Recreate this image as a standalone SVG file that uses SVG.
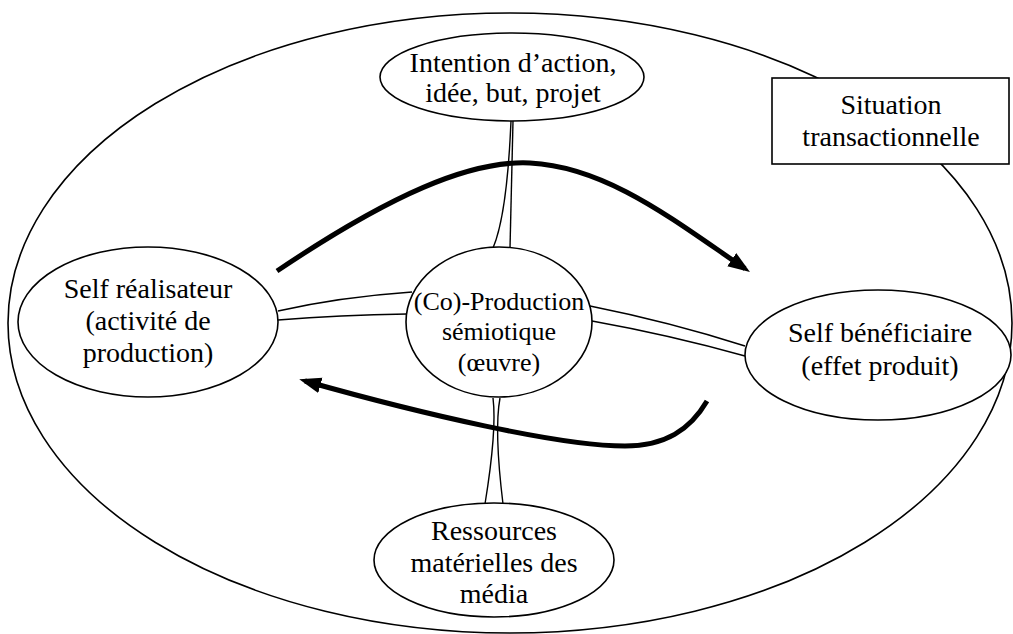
<svg xmlns="http://www.w3.org/2000/svg" width="1013" height="634" viewBox="0 0 1013 634">
<style>
.n{fill:#fff;stroke:#000;stroke-width:1.6}
.t{font-size:28px;fill:#000;text-anchor:middle}
.s{font-size:26px}
.c{fill:none;stroke:#000;stroke-width:1.4}
.a{fill:none;stroke:#000;stroke-width:5}
</style>
<defs>
<marker id="ah" markerUnits="userSpaceOnUse" markerWidth="24" markerHeight="18" refX="16" refY="8" orient="auto">
<path d="M0,0 L22,8 L0,16 Z" fill="#000"/>
</marker>
</defs>
<g font-family="Liberation Serif, Times New Roman, serif">
<g id="situation">
<ellipse cx="510" cy="323" rx="502" ry="310" fill="none" stroke="#000" stroke-width="1.6"/>
<rect x="772" y="78" width="237" height="86" class="n"/>
<text class="t" x="891" y="114">Situation</text>
<text class="t" x="891" y="146">transactionnelle</text>
</g>
<g id="connectors">
<path class="c" d="M511,121 Q507,215 493,248"/>
<path class="c" d="M513,121 L510,248"/>
<path class="c" d="M278,311 Q340,297 412,292"/>
<path class="c" d="M278,320 Q340,315 407,314"/>
<path class="c" d="M590,306 Q670,322 745,346"/>
<path class="c" d="M592,321 Q670,335 745,356"/>
<path class="c" d="M493,398 Q497,430 485,504"/>
<path class="c" d="M500,398 Q494,430 503,504"/>
<path class="a" marker-end="url(#ah)" d="M277,271 C390,195 470,160 530,163 C608,167 676,222 745,268.6"/>
<path class="a" marker-end="url(#ah)" d="M707,401 C690,430 665,446 625,446 C560,446 422,414 305,381"/>
</g>
<g id="intention">
<ellipse class="n" cx="512" cy="77" rx="132" ry="44"/>
<text class="t" x="513" y="72">Intention d’action,</text>
<text class="t" x="513" y="102">idée, but, projet</text>
</g>
<g id="self-realisateur">
<ellipse class="n" cx="148" cy="322" rx="130" ry="75"/>
<text class="t" x="148" y="298">Self réalisateur</text>
<text class="t" x="148" y="330">(activité de</text>
<text class="t" x="148" y="362">production)</text>
</g>
<g id="production">
<ellipse class="n" cx="499" cy="322" rx="93" ry="75"/>
<text class="t s" x="499" y="310">(Co)-Production</text>
<text class="t s" x="499" y="340">sémiotique</text>
<text class="t s" x="499" y="371">(œuvre)</text>
</g>
<g id="self-beneficiaire">
<ellipse class="n" cx="878" cy="355" rx="133" ry="65"/>
<text class="t" x="880" y="342">Self bénéficiaire</text>
<text class="t" x="880" y="375">(effet produit)</text>
</g>
<g id="ressources">
<ellipse class="n" cx="494" cy="560" rx="120" ry="57"/>
<text class="t" x="494" y="540">Ressources</text>
<text class="t" x="494" y="572">matérielles des</text>
<text class="t" x="494" y="603">média</text>
</g>
</g>
</svg>
